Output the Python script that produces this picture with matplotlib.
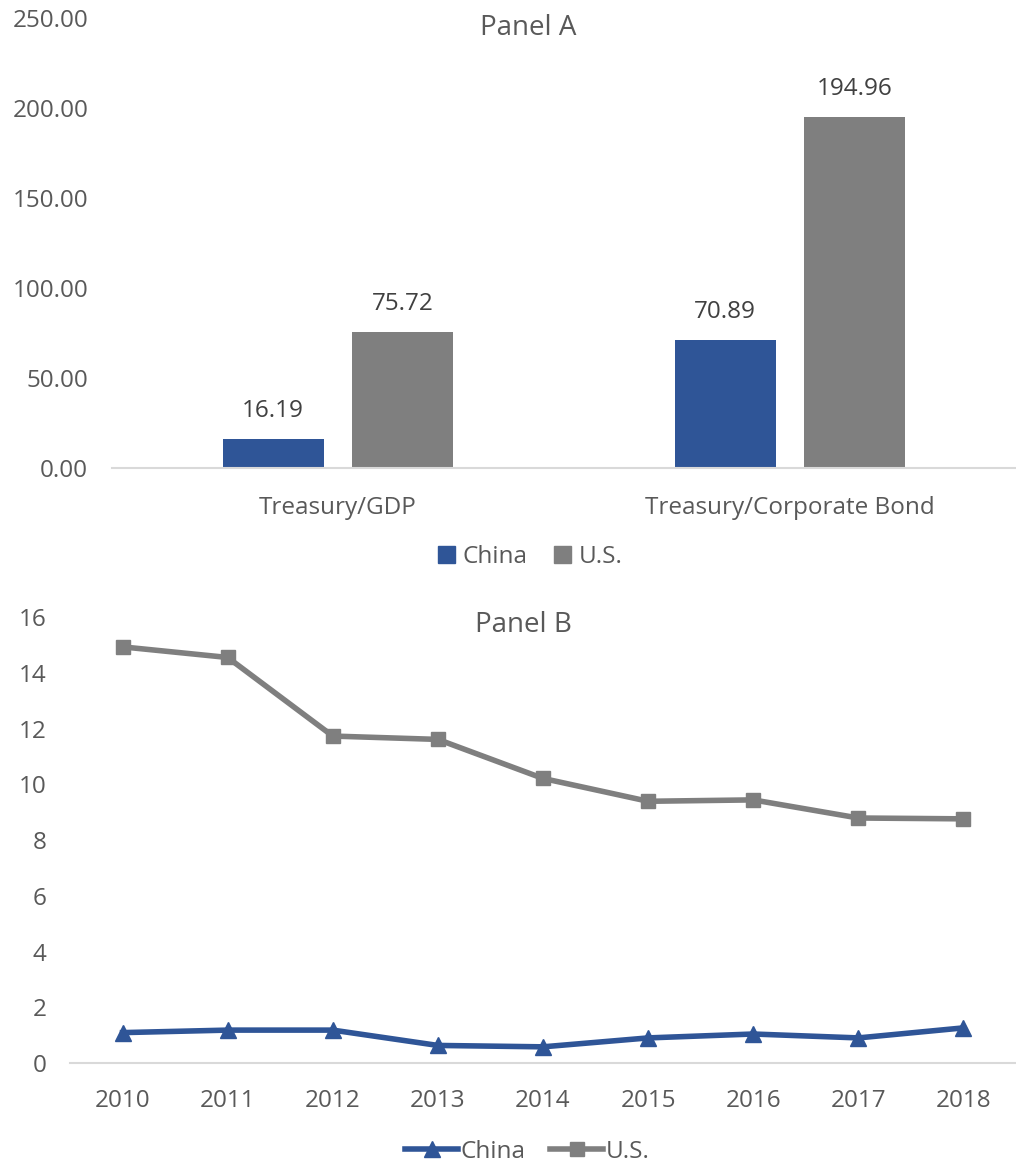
import numpy as np
import matplotlib
matplotlib.use("Agg")
import matplotlib.pyplot as plt
from matplotlib.lines import Line2D
from matplotlib.patches import Patch

plt.rcParams['font.family'] = ['Open Sans', 'DejaVu Sans']

# Panel A : ratios
categories_a = ["Treasury/GDP", "Treasury/Corporate Bond"]
china_a = [16.19, 70.89]
us_a = [75.72, 194.96]

# Panel B : series annuelles
years = ["2010", "2011", "2012", "2013", "2014", "2015", "2016", "2017", "2018"]
china_b = [1.09, 1.18, 1.18, 0.63, 0.58, 0.90, 1.04, 0.90, 1.26]
us_b = [14.93, 14.55, 11.73, 11.61, 10.21, 9.39, 9.44, 8.79, 8.76]

blue = '#2F5597'
grey = '#7F7F7F'
txt = '#595959'
fs = 17.5

fig = plt.figure(figsize=(10.16, 11.68), dpi=100)

# ---- Panel A
axa = fig.add_axes([0.110, 0.5993, 0.890, 0.3853])
x = np.arange(len(categories_a))
w = 0.224
b1 = axa.bar(x - 0.143, china_a, w, color=blue, label="China")
b2 = axa.bar(x + 0.143, us_a, w, color=grey, label="U.S.")
for bars, vals in [(b1, china_a), (b2, us_a)]:
    for r, v in zip(bars, vals):
        axa.text(r.get_x() + r.get_width() / 2, v + 9, f"{v:.2f}",
                 ha='center', va='bottom', fontsize=fs, color='#404040')
axa.set_xlim(-0.5, 1.5)
axa.set_ylim(0, 250)
axa.set_yticks(np.arange(0, 251, 50))
axa.set_yticklabels([f"{v:.2f}" for v in np.arange(0, 251, 50)])
axa.set_xticks(x)
axa.set_xticklabels(categories_a)
for s in ['top', 'right', 'left']:
    axa.spines[s].set_visible(False)
axa.spines['bottom'].set_color('#D9D9D9')
axa.spines['bottom'].set_linewidth(1.5)
axa.tick_params(axis='both', length=0, labelsize=fs, colors=txt)
axa.tick_params(axis='y', pad=17)
axa.tick_params(axis='x', pad=20)
fig.text(528 / 1016, 1 - 28 / 1168, "Panel A", ha='center', va='center',
         fontsize=20, color=txt)
fig.legend(handles=[Patch(color=blue, label="China"), Patch(color=grey, label="U.S.")],
           loc='center', bbox_to_anchor=(0.522, 1 - 557 / 1168), ncol=2,
           frameon=False, fontsize=fs, labelcolor=txt, handlelength=0.7,
           handleheight=0.7, handletextpad=0.3, columnspacing=1.1)

# ---- Panel B
axb = fig.add_axes([0.0689, 0.0899, 0.9311, 0.3818])
xb = np.arange(len(years))
axb.plot(xb, china_b, color=blue, lw=4, marker='^', ms=11, label="China")
axb.plot(xb, us_b, color=grey, lw=4, marker='s', ms=10.5, label="U.S.")
axb.set_xlim(-0.5, len(years) - 0.5)
axb.set_ylim(0, 16)
axb.set_yticks(np.arange(0, 17, 2))
axb.set_xticks(xb)
axb.set_xticklabels(years)
for s in ['top', 'right', 'left']:
    axb.spines[s].set_visible(False)
axb.spines['bottom'].set_color('#D9D9D9')
axb.spines['bottom'].set_linewidth(1.5)
axb.tick_params(axis='both', length=0, labelsize=fs, colors=txt)
axb.tick_params(axis='y', pad=17)
axb.tick_params(axis='x', pad=19)
fig.text(523 / 1016, 1 - 625 / 1168, "Panel B", ha='center', va='center',
         fontsize=20, color=txt)
fig.legend(handles=[Line2D([], [], color=blue, lw=4, marker='^', ms=11, label="China"),
                    Line2D([], [], color=grey, lw=4, marker='s', ms=10.5, label="U.S.")],
           loc='center', bbox_to_anchor=(0.519, 1 - 1152 / 1168), ncol=2,
           frameon=False, fontsize=fs, labelcolor=txt, handlelength=2.2,
           handletextpad=0.1, columnspacing=1.0)

plt.savefig("out.png", dpi=100)
